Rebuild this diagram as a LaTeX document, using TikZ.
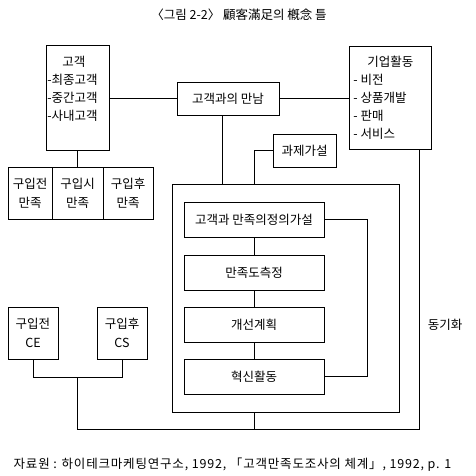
\documentclass[tikz,border=0pt]{standalone}
\usepackage{fontspec}
\setmainfont{Noto Sans CJK KR}
\usetikzlibrary{calc}

\begin{document}
\begin{tikzpicture}[x=1pt, y=-1pt, font=\fontsize{12.5}{19}\selectfont, line width=0.8pt,
	box/.style={draw, inner sep=0pt, align=center},
	list/.style={anchor=north west, align=left, inner sep=0pt, font=\fontsize{12.5}{17.8}\selectfont}]
	\useasboundingbox (0,0) rectangle (476,476);
	\node (title) at (239,15) {〈그림 2-2〉 顧客滿足의 槪念 틀};
	\node[box, minimum width=63, minimum height=105] (kunde) at (77.5,97.5) {};
	\node[list] (kundetxt) at (47,56) {\hspace*{15pt}고객\\-최종고객\\-중간고객\\-사내고객};
	\node[box, minimum width=102, minimum height=33] (meet) at (228,98.5) {고객과의 만남};
	\node[box, minimum width=82, minimum height=103] (corp) at (390,97.5) {};
	\node[list] (corptxt) at (353,56) {\hspace*{14pt}기업활동\\- 비전\\- 상품개발\\- 판매\\- 서비스};
	\node[box, minimum width=63, minimum height=33] (task) at (304.5,150.5) {과제가설};
	\node[box, minimum width=44, minimum height=52] (pre) at (30,193) {구입전\\만족};
	\node[box, minimum width=51, minimum height=52] (during) at (77.5,193) {구입시\\만족};
	\node[box, minimum width=50, minimum height=52] (post) at (128,193) {구입후\\만족};
	\node[box, minimum width=227, minimum height=228] (frame) at (285.5,298) {};
	\node[box, minimum width=140, minimum height=35] (s1) at (254,219.5) {고객과 만족의정의가설};
	\node[box, minimum width=140, minimum height=35] (s2) at (254,272.5) {만족도측정};
	\node[box, minimum width=140, minimum height=35] (s3) at (254,325) {개선계획};
	\node[box, minimum width=140, minimum height=35] (s4) at (254,376.5) {혁신활동};
	\node[box, minimum width=50, minimum height=52] (ce) at (33,333) {구입전\\CE};
	\node[box, minimum width=50, minimum height=52] (cs) at (122,333) {구입후\\CS};
	\node (sync) at (445,325) {동기화};
	\node (src) at (232.5,465) {\addfontfeature{LetterSpace=6.5}자료원 : 하이테크마케팅연구소, 1992, 「고객만족도조사의 체계」, 1992, p. 1};
	\coordinate (base) at (0,429);
	\coordinate (fb) at (367,0);
	\coordinate (bus) at ($(ce.south)!0.5!(cs.south)+(0,18)$);
	\coordinate (corpleg) at ([xshift=-12pt]corp.south east);
	\draw (meet.west) -- (meet.west -| kunde.east);
	\draw (meet.east) -- (meet.east -| corp.west);
	\draw (kunde.south) -- (during.north);
	\draw ([xshift=-6pt]meet.south) -- ([xshift=-6pt]meet.south |- frame.north);
	\draw (task.west) -| (frame.north -| s1.north);
	\draw (s1) -- (s2) (s2) -- (s3) (s3) -- (s4);
	\draw (s1.east) -- (s1.east -| fb) |- (s4.east);
	\draw (ce.south) |- (bus) -| (cs.south);
	\draw (bus) -- (bus |- base) -| (corpleg);
	\draw (s4.south |- frame.south) -- (s4.south |- base);
\end{tikzpicture}
\end{document}
